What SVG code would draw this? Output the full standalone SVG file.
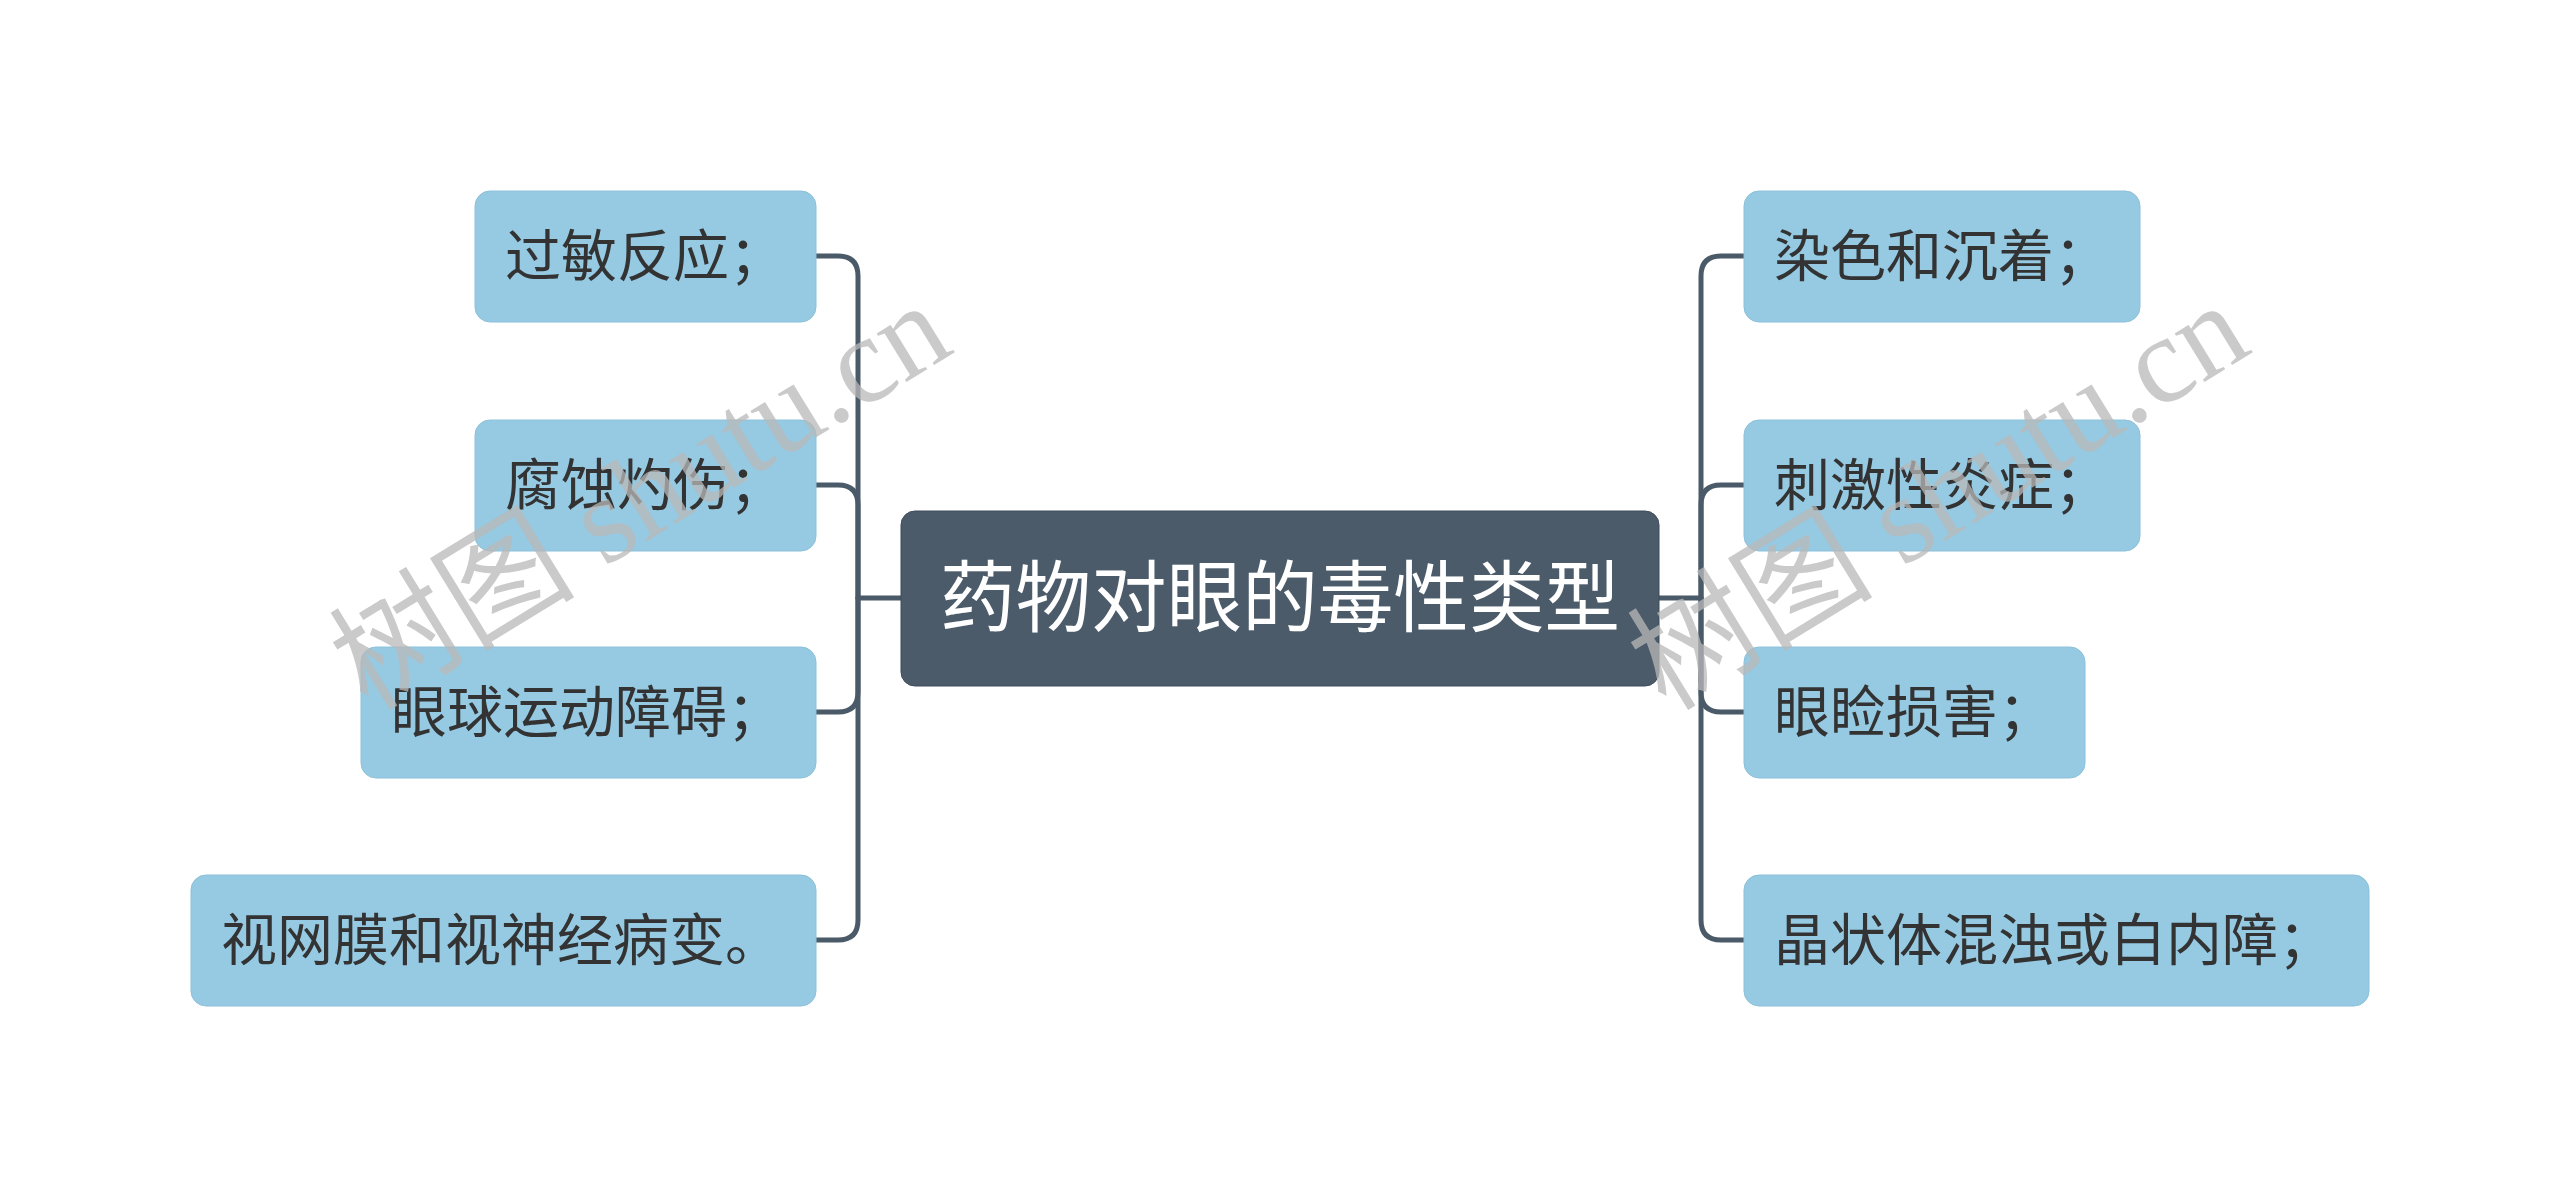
<svg xmlns="http://www.w3.org/2000/svg" width="2560" height="1197" viewBox="0 0 2560 1197">
<style>
.sub rect{fill:#96cae3;stroke:#8cc1da;stroke-width:1}
.sub text{font-family:"Noto Sans CJK SC","Noto Sans",sans-serif;font-size:56px;fill:#333333}
.root rect{fill:#4b5b6a;stroke:#3f4d5a;stroke-width:1}
.root text{font-family:"Noto Sans CJK SC","Noto Sans",sans-serif;font-size:78px;fill:#ffffff}
.conn path{fill:none;stroke:#4b5a68;stroke-width:5;stroke-linecap:round;stroke-linejoin:round}
.wm{font-family:"Liberation Serif","Noto Sans CJK SC",serif;font-size:124px;fill:#b8b8b8;fill-opacity:0.75}
</style>
<rect width="2560" height="1197" fill="#ffffff"/>
<g id="connectors" class="conn">
<path d="M901 598 H858 V276 Q858 256 838 256 H816"/>
<path d="M858 598 V505 Q858 485 838 485 H816"/>
<path d="M858 598 V692 Q858 712 838 712 H816"/>
<path d="M858 598 V920 Q858 940 838 940 H816"/>
<path d="M1659 598 H1701 V276 Q1701 256 1721 256 H1744"/>
<path d="M1701 598 V505 Q1701 485 1721 485 H1744"/>
<path d="M1701 598 V692 Q1701 712 1721 712 H1744"/>
<path d="M1701 598 V920 Q1701 940 1721 940 H1744"/>
</g>
<g id="root" class="root">
<rect x="901" y="511" width="758" height="175" rx="14"/>
<text x="1280" y="626" text-anchor="middle" textLength="680" lengthAdjust="spacingAndGlyphs">药物对眼的毒性类型</text>
</g>
<g id="n-l1" class="sub">
<rect x="475" y="191" width="341" height="131" rx="15"/>
<text x="505" y="276">过敏反应；</text>
</g>
<g id="n-l2" class="sub">
<rect x="475" y="420" width="341" height="131" rx="15"/>
<text x="505" y="505">腐蚀灼伤；</text>
</g>
<g id="n-l3" class="sub">
<rect x="361" y="647" width="455" height="131" rx="15"/>
<text x="391" y="732">眼球运动障碍；</text>
</g>
<g id="n-l4" class="sub">
<rect x="191" y="875" width="625" height="131" rx="15"/>
<text x="221" y="960">视网膜和视神经病变。</text>
</g>
<g id="n-r1" class="sub">
<rect x="1744" y="191" width="396" height="131" rx="15"/>
<text x="1774" y="276">染色和沉着；</text>
</g>
<g id="n-r2" class="sub">
<rect x="1744" y="420" width="396" height="131" rx="15"/>
<text x="1774" y="505">刺激性炎症；</text>
</g>
<g id="n-r3" class="sub">
<rect x="1744" y="647" width="341" height="131" rx="15"/>
<text x="1774" y="732">眼睑损害；</text>
</g>
<g id="n-r4" class="sub">
<rect x="1744" y="875" width="625" height="131" rx="15"/>
<text x="1774" y="960">晶状体混浊或白内障；</text>
</g>
<g id="watermarks">
<text class="wm" transform="translate(368,712) rotate(-31.5)" textLength="690" lengthAdjust="spacingAndGlyphs">树图 shutu.cn</text>
<text class="wm" transform="translate(1666,712) rotate(-31.5)" textLength="690" lengthAdjust="spacingAndGlyphs">树图 shutu.cn</text>
</g>
</svg>
